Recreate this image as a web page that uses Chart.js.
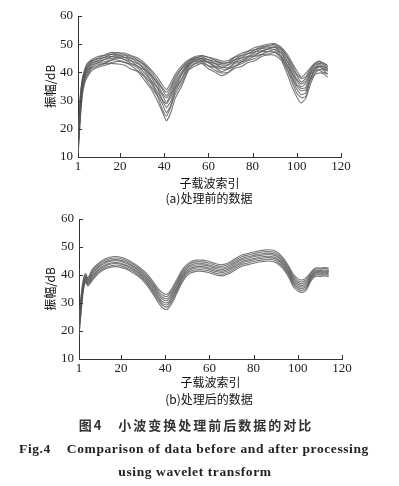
<!DOCTYPE html>
<html>
<head>
<meta charset="utf-8">
<script src="https://cdn.jsdelivr.net/npm/chart.js@4.4.1/dist/chart.umd.min.js"></script>
<style>
  html,body{margin:0;padding:0;background:#fff;}
  body{width:399px;height:486px;position:relative;overflow:hidden;}
  .box{position:absolute;left:0;width:399px;height:200px;}
  .t{position:absolute;white-space:nowrap;transform:translate(-50%,-50%);color:#111;}
  .cjk{font-family:"Noto Sans CJK SC","Noto Sans",sans-serif;}
  .en{font-family:"Liberation Serif","DejaVu Serif",serif;font-weight:bold;}
</style>
</head>
<body>
<div class="box" style="top:0"><canvas id="ca" width="399" height="200"></canvas></div>
<div class="box" style="top:200px"><canvas id="cb" width="399" height="200"></canvas></div>
<div class="t cjk" style="left:209px;top:197px;font-size:12px;">(a)处理前的数据</div>
<div class="t cjk" style="left:209px;top:398px;font-size:12px;">(b)处理后的数据</div>
<div class="t cjk" style="left:196px;top:424px;font-size:13px;font-weight:bold;letter-spacing:2px;color:#333;">图4&nbsp;&nbsp;&nbsp;小波变换处理前后数据的对比</div>
<div class="t en" style="left:194px;top:449px;font-size:13.5px;letter-spacing:0.6px;color:#222;">Fig.4&nbsp;&nbsp;&nbsp;&nbsp;Comparison of data before and after processing</div>
<div class="t en" style="left:195px;top:472px;font-size:13.5px;letter-spacing:0.6px;color:#222;">using wavelet transform</div>
<script>
// ---- data ----
const subcarrier = [1,2,3,4,5,7,10,13,16,19,22,25,28,31,34,37,39,41,43,45,48,51,54,57,60,63,66,69,72,75,78,81,84,87,90,93,96,98,100,102,104,106,108,110,112,114];
const xTicks = [1,20,40,60,80,100,120];
const yTicks = [10,20,30,40,50,60];

// (a) before processing
const before1 = [10,23,32,36,38,40.5,41.8,42.5,43.2,43.0,42.6,41.2,40.3,37.3,34.2,29.8,26.3,22.8,25.8,30.8,35.3,40.8,42.3,43.2,41.3,40.1,38.8,39.9,41.5,42.1,43.5,44.1,45.6,46.2,46.1,44.2,38.8,34.6,31.3,29.2,30.7,35.4,39.1,39.8,39.6,38.3];
const before2 = [11,24,33,37,38.8,41.3,42.3,43.1,43.4,43.9,43.5,42.4,40.6,38.4,35.1,31.5,27.2,24.5,27.8,32.2,36.4,41.1,43.1,43.4,42.3,40.8,39.8,40.1,42.2,43.1,44.2,44.9,46.3,46.5,47.1,44.9,40.2,36.3,32.6,31.0,31.4,36.8,39.4,40.8,40.0,39.5];
const before3 = [12,25,34,37.5,39.5,41.6,42.8,43.2,44.3,44.4,43.7,42.9,41.6,38.9,36.3,32.0,29.1,25.7,28.4,33.3,37.6,41.8,43.2,44.0,42.4,41.7,40.2,41.2,42.3,43.7,44.6,45.7,46.4,47.3,47.4,45.6,40.9,37.4,34.0,32.1,32.8,37.3,40.3,41.0,40.8,39.3];
const before4 = [13,26,35,38.2,40.2,42.0,43.5,43.8,44.4,45.0,44.6,43.2,42.3,39.8,36.9,33.0,30.2,27.6,29.7,34.3,38.0,42.3,43.8,44.0,43.4,41.9,41.2,41.3,43.2,43.8,45.3,45.9,47.3,47.4,48.2,45.7,42.0,38.2,35.2,33.5,33.8,37.7,40.5,41.8,41.1,40.4];
const before5 = [14,27,35.5,38.6,40.4,42.7,43.3,44.6,44.9,45.4,44.6,44.0,42.2,40.8,37.3,34.4,30.6,28.8,31.4,34.8,39.3,42.4,44.3,44.4,43.7,42.3,41.8,41.7,43.6,44.3,45.6,46.4,47.4,48.2,48.1,46.8,42.2,39.4,35.7,34.3,34.6,38.8,40.8,42.3,41.4,40.7];
const before6 = [15,28,36,39.2,41.0,42.9,44.0,44.6,45.6,45.5,45.4,44.2,43.1,41.2,38.4,34.6,32.2,29.4,32.3,35.7,39.8,42.9,44.1,44.9,43.8,43.1,41.8,42.6,43.8,45.0,45.8,47.1,47.7,48.3,48.9,46.8,43.3,39.6,37.1,34.8,36.0,39.2,41.5,42.2,42.0,40.8];
const before7 = [16,29,36.8,39.5,41.6,43.4,44.2,45.3,45.6,46.2,45.4,44.9,43.4,41.6,39.0,35.8,32.8,30.9,33.1,36.6,40.3,43.3,44.7,44.9,44.5,43.2,42.6,42.8,44.5,45.2,46.6,47.2,48.4,48.7,49.0,47.6,43.8,40.7,37.6,35.9,36.7,39.9,41.6,43.0,42.1,41.5];
const before8 = [12,30,37.2,40.1,41.8,43.8,44.8,45.4,46.4,46.2,46.1,45.1,44.1,42.4,39.5,36.3,34.2,31.6,34.2,37.5,41.3,43.5,45.1,45.5,44.5,43.9,43.1,43.4,44.6,45.9,46.7,47.9,48.6,49.3,49.4,48.2,44.8,41.5,38.9,36.5,37.8,40.3,42.4,43.2,42.8,41.4];
const before9 = [11,31,37.6,40.5,42.5,44.1,45.0,46.0,46.5,46.9,46.3,45.7,44.4,42.8,40.4,37.1,34.7,33.0,35.0,38.4,41.6,44.1,45.0,45.8,45.3,44.3,43.4,43.6,45.4,46.1,47.4,48.1,49.0,49.5,50.0,48.4,45.3,42.4,39.4,37.8,38.4,40.9,42.8,43.8,43.2,42.1];
const before10 = [13,31,38,41,43,44.4,45.6,46.2,47.1,47.0,46.9,46.0,45.1,43.4,41.0,38.2,35.8,33.9,36.2,39.3,42.4,44.4,45.6,46.0,45.4,44.8,44.0,44.2,45.6,46.8,47.6,48.8,49.4,50.1,50.2,48.9,46.1,43.2,40.6,38.3,39.6,41.5,43.2,44.0,43.4,42.4];

// (b) after processing
const after1 = [18,27,34.5,37.5,36,38,40.7,42.2,42.9,42.9,42.2,41,39.4,37,33.8,30,28.1,27.8,29.8,33,37.8,40.5,41.3,41.3,40.8,40,39.7,40.5,42,43.2,43.8,44.4,44.8,45,44.5,42.5,39,35.8,34.3,33.8,34.8,38,39.5,39.5,39.7,39.5];
const after2 = [19,28,35.1,37.9,36.5,38.6,41.2,42.7,43.4,43.5,42.7,41.6,39.9,37.7,34.5,30.8,29,28.6,30.6,33.8,38.5,41.1,41.9,41.9,41.4,40.6,40.3,41.1,42.6,43.8,44.4,45,45.4,45.6,45.1,43.1,39.6,36.5,35,34.5,35.5,38.4,40,40,40.1,40];
const after3 = [20,29,35.7,38.4,36.9,39.2,41.8,43.3,44,44,43.3,42.1,40.5,38.2,35.1,31.5,29.7,29.4,31.4,34.5,39.1,41.7,42.5,42.5,42,41.2,40.9,41.7,43.2,44.4,45,45.6,46,46.2,45.7,43.7,40.2,37.1,35.6,35.1,36.1,38.9,40.4,40.4,40.6,40.4];
const after4 = [21,30,36.2,38.8,37.3,39.7,42.2,43.7,44.4,44.4,43.7,42.5,40.9,38.7,35.7,32.1,30.4,30.1,32.1,35.1,39.7,42.2,43,43,42.5,41.7,41.4,42.2,43.7,44.9,45.5,46.1,46.5,46.7,46.2,44.2,40.7,37.7,36.2,35.7,36.7,39.3,40.8,40.8,41,40.8];
const after5 = [20,31,36.8,39.2,37.7,40.3,42.8,44.3,45,45,44.3,43.1,41.5,39.3,36.3,32.9,31.2,30.9,32.9,35.9,40.3,42.8,43.6,43.6,43.1,42.3,42,42.8,44.3,45.5,46.1,46.7,47.1,47.3,46.8,44.8,41.3,38.3,36.8,36.3,37.3,39.7,41.2,41.2,41.4,41.2];
const after6 = [22,31,37.3,39.6,38.1,40.8,43.2,44.7,45.4,45.4,44.7,43.5,41.9,39.8,36.9,33.5,31.9,31.6,33.6,36.5,40.9,43.3,44.1,44.1,43.6,42.8,42.5,43.3,44.8,46,46.6,47.2,47.6,47.8,47.3,45.3,41.8,38.9,37.4,36.9,37.9,40.1,41.6,41.6,41.8,41.6];
const after7 = [23,32,37.9,40,38.5,41.4,43.8,45.3,46,46,45.3,44.1,42.5,40.4,37.5,34.2,32.7,32.4,34.4,37.2,41.5,43.9,44.7,44.7,44.2,43.4,43.1,43.9,45.4,46.6,47.2,47.8,48.2,48.4,47.9,45.9,42.4,39.5,38,37.5,38.5,40.6,42.1,42.1,42.3,42.1];
const after8 = [22,33,38.5,40.5,39,42,44.3,45.8,46.5,46.5,45.8,44.6,43,41,38.2,35,33.5,33.2,35.2,38,42.2,44.5,45.3,45.3,44.8,44,43.7,44.5,46,47.2,47.8,48.4,48.8,49,48.5,46.5,43,40.2,38.7,38.2,39.2,41,42.5,42.5,42.7,42.5];

const beforeSeries = [before1,before2,before3,before4,before5,before6,before7,before8,before9,before10];
const afterSeries = [after1,after2,after3,after4,after5,after6,after7,after8];

// ---- chart setup ----
const inwardTicks = {
  id: 'inwardTicks',
  afterDatasetsDraw(chart) {
    const {ctx, chartArea: a, scales: {x, y}} = chart;
    ctx.save();
    ctx.strokeStyle = '#333';
    ctx.lineWidth = 1;
    x.ticks.forEach(t => {
      const px = Math.round(x.getPixelForValue(t.value)) + 0.5;
      ctx.beginPath(); ctx.moveTo(px, a.bottom); ctx.lineTo(px, a.bottom - 4); ctx.stroke();
    });
    y.ticks.forEach(t => {
      const py = Math.round(y.getPixelForValue(t.value)) + 0.5;
      ctx.beginPath(); ctx.moveTo(a.left, py); ctx.lineTo(a.left + 4, py); ctx.stroke();
    });
    ctx.restore();
  }
};

function makeChart(id, series, geom, smooth) {
  const datasets = series.map(s => ({
    data: subcarrier.map((xv, i) => ({x: xv, y: s[i]})),
    borderColor: 'rgba(85,85,85,0.8)',
    borderWidth: 1.1,
    pointRadius: 0,
    tension: smooth ? 0.35 : 0.15,
    fill: false
  }));
  const tickFont = {family: '"Liberation Serif", "DejaVu Serif", serif', size: 13};
  const titleFont = {family: '"Noto Sans CJK SC", sans-serif', size: 12};
  return new Chart(document.getElementById(id), {
    type: 'line',
    data: {datasets},
    plugins: [inwardTicks],
    options: {
      responsive: false,
      animation: false,
      devicePixelRatio: 1,
      layout: {padding: {top: geom.top, right: geom.right, left: 0, bottom: 0}},
      plugins: {legend: {display: false}, tooltip: {enabled: false}},
      scales: {
        x: {
          type: 'linear', min: 1, max: 120,
          afterBuildTicks: s => { s.ticks = xTicks.map(v => ({value: v})); },
          afterFit: s => { s.height = geom.xh; },
          grid: {display: true, drawOnChartArea: false, drawTicks: false},
          border: {display: true, color: '#333', width: 1},
          ticks: {color: '#222', font: tickFont, padding: 2, maxRotation: 0, autoSkip: false},
          title: {display: true, text: '子载波索引', color: '#111', font: titleFont, padding: {top: 0, bottom: geom.xtp}}
        },
        y: {
          type: 'linear', min: 10, max: 60,
          afterBuildTicks: s => { s.ticks = yTicks.map(v => ({value: v})); },
          afterFit: s => { s.width = geom.yw; },
          grid: {display: true, drawOnChartArea: false, drawTicks: false},
          border: {display: true, color: '#333', width: 1},
          ticks: {color: '#222', font: tickFont, padding: 5},
          title: {display: true, text: '振幅/dB', color: '#111', font: titleFont, padding: {top: geom.ytp, bottom: 0}}
        }
      }
    }
  });
}

makeChart('ca', beforeSeries, {top: 16, right: 58, xh: 43, yw: 78, xtp: 9, ytp: 43}, false);
makeChart('cb', afterSeries, {top: 19, right: 57, xh: 41, yw: 79, xtp: 10, ytp: 43}, true);
</script>
</body>
</html>
